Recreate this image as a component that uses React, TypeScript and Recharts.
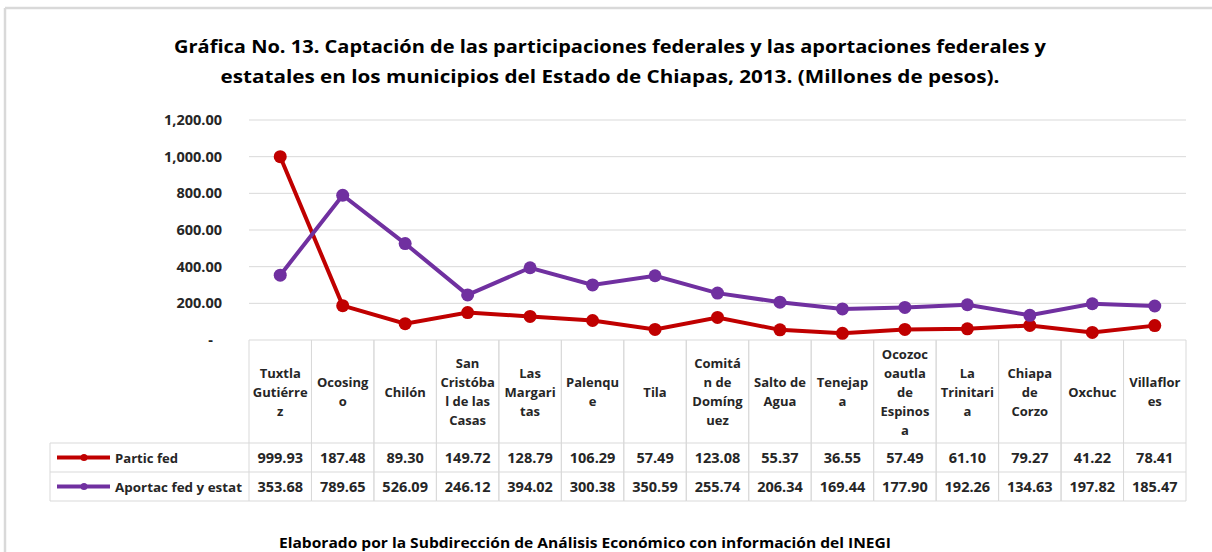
import React from 'react';
import { LineChart, Line, XAxis, YAxis, CartesianGrid } from 'recharts';

// municipios (orden de la gráfica)
const municipios = [
  'Tuxtla Gutiérrez', 'Ocosingo', 'Chilón', 'San Cristóbal de las Casas', 'Las Margaritas',
  'Palenque', 'Tila', 'Comitán de Domínguez', 'Salto de Agua', 'Tenejapa',
  'Ocozocoautla de Espinosa', 'La Trinitaria', 'Chiapa de Corzo', 'Oxchuc', 'Villaflores',
];

// etiquetas tal como se cortan en la tabla
const etiquetas = [
  ['Tuxtla', 'Gutiérre', 'z'],
  ['Ocosing', 'o'],
  ['Chilón'],
  ['San', 'Cristóba', 'l de las', 'Casas'],
  ['Las', 'Margari', 'tas'],
  ['Palenqu', 'e'],
  ['Tila'],
  ['Comitá', 'n de', 'Domíng', 'uez'],
  ['Salto de', 'Agua'],
  ['Tenejap', 'a'],
  ['Ocozoc', 'oautla', 'de', 'Espinos', 'a'],
  ['La', 'Trinitari', 'a'],
  ['Chiapa', 'de', 'Corzo'],
  ['Oxchuc'],
  ['Villaflor', 'es'],
];

const particFed = [999.93, 187.48, 89.3, 149.72, 128.79, 106.29, 57.49, 123.08, 55.37, 36.55, 57.49, 61.1, 79.27, 41.22, 78.41];
const aportacFed = [353.68, 789.65, 526.09, 246.12, 394.02, 300.38, 350.59, 255.74, 206.34, 169.44, 177.9, 192.26, 134.63, 197.82, 185.47];

const yTicks = [0, 200, 400, 600, 800, 1000, 1200];

const series = [
  { key: 'partic', name: 'Partic fed', color: '#C00000', textW: 63 },
  { key: 'aportac', name: 'Aportac fed y estat', color: '#7030A0', textW: 127 },
];

const data = municipios.map((m, i) => ({ municipio: m, partic: particFed[i], aportac: aportacFed[i] }));

// layout
const W = 1212;
const H = 552;
const PLOT_LEFT = 249;
const PLOT_RIGHT = 1186;
const PLOT_TOP = 120;
const PLOT_BOTTOM = 340;
const BAND = (PLOT_RIGHT - PLOT_LEFT) / municipios.length;
const ROW_CAT = 443;
const ROW_1 = 472;
const ROW_2 = 501;
const LEG_LEFT = 50;
const GRID = '#D9D9D9';
const FONT = "'Open Sans', 'DejaVu Sans', sans-serif";
const TXT = '#262626';

const fmt = (v: number) => v.toLocaleString('en-US', { minimumFractionDigits: 2, maximumFractionDigits: 2 });

const YTick = (props: any) => {
  const { x, y, payload } = props;
  const label = payload.value === 0 ? '-' : fmt(payload.value);
  return (
    <text x={x} y={y} dx={payload.value === 0 ? -9 : 0} dy={5} textAnchor="end"
      fontFamily={FONT} fontSize={14.5} fontWeight="bold" fill={TXT}>
      {label}
    </text>
  );
};

const TableTick = (props: any) => {
  const { x, payload } = props;
  const i = municipios.indexOf(payload.value);
  if (i < 0) return null;
  const x0 = x - BAND / 2;
  const x1 = x + BAND / 2;
  const lines = etiquetas[i];
  const lh = 19;
  const catMid = (PLOT_BOTTOM + ROW_CAT) / 2;
  const firstY = catMid - ((lines.length - 1) * lh) / 2 + 5;
  const r1 = (ROW_CAT + ROW_1) / 2 + 5;
  const r2 = (ROW_1 + ROW_2) / 2 + 5;
  return (
    <g>
      <line x1={x0} x2={x0} y1={PLOT_BOTTOM} y2={ROW_2} stroke={GRID} />
      <line x1={x1} x2={x1} y1={PLOT_BOTTOM} y2={ROW_2} stroke={GRID} />
      {[ROW_CAT, ROW_1, ROW_2].map((yy) => (
        <line key={yy} x1={x0} x2={x1} y1={yy} y2={yy} stroke={GRID} />
      ))}
      {lines.map((t, k) => (
        <text key={k} x={x} y={firstY + k * lh} textAnchor="middle" fontFamily={FONT}
          fontSize={13} fontWeight="bold" fill={TXT}>{t}</text>
      ))}
      <text x={x} y={r1} textAnchor="middle" fontFamily={FONT} fontSize={14.5} fontWeight="bold" fill={TXT}>
        {fmt(particFed[i])}
      </text>
      <text x={x} y={r2} textAnchor="middle" fontFamily={FONT} fontSize={14.5} fontWeight="bold" fill={TXT}>
        {fmt(aportacFed[i])}
      </text>
      {i === 0 && (
        <g>
          <line x1={LEG_LEFT} x2={LEG_LEFT} y1={ROW_CAT} y2={ROW_2} stroke={GRID} />
          {[ROW_CAT, ROW_1, ROW_2].map((yy) => (
            <line key={yy} x1={LEG_LEFT} x2={x0} y1={yy} y2={yy} stroke={GRID} />
          ))}
          {series.map((s, k) => {
            const cy = k === 0 ? (ROW_CAT + ROW_1) / 2 : (ROW_1 + ROW_2) / 2;
            return (
              <g key={s.key}>
                <line x1={57} x2={110} y1={cy} y2={cy} stroke={s.color} strokeWidth={4} />
                <circle cx={84} cy={cy} r={3.5} fill={s.color} />
                <text x={115} y={cy + 5} fontFamily={FONT} fontSize={13} fontWeight="bold" fill={TXT}
                  textLength={s.textW} lengthAdjust="spacingAndGlyphs">{s.name}</text>
              </g>
            );
          })}
        </g>
      )}
    </g>
  );
};

export default function App() {
  return (
    <div style={{ position: 'absolute', left: 0, top: 0, width: W, height: H, background: '#fff', overflow: 'hidden' }}>
      <LineChart width={W} height={H} data={data}
        margin={{ top: PLOT_TOP, right: W - PLOT_RIGHT, bottom: 0, left: 0 }}>
        <CartesianGrid horizontal vertical={false} stroke={GRID} />
        <XAxis dataKey="municipio" interval={0} axisLine={false} tickLine={false}
          padding={{ left: BAND / 2, right: BAND / 2 }}
          tickSize={0} tickMargin={0} height={H - PLOT_BOTTOM} tick={<TableTick />} />
        <YAxis domain={[0, 1200]} ticks={yTicks} interval={0} axisLine={false} tickLine={false}
          tickSize={0} tickMargin={27} width={PLOT_LEFT} tick={<YTick />} />
        {series.map((s) => (
          <Line key={s.key} type="linear" dataKey={s.key} name={s.name} stroke={s.color} strokeWidth={4}
            dot={{ r: 6.5, fill: s.color, stroke: s.color, strokeWidth: 0 }} isAnimationActive={false} />
        ))}
      </LineChart>
      <svg width={W} height={H} style={{ position: 'absolute', left: 0, top: 0, pointerEvents: 'none' }}>
        <line x1={5} x2={W} y1={8} y2={8} stroke={GRID} strokeWidth={2.5} />
        <line x1={5} x2={5} y1={8} y2={H} stroke={GRID} strokeWidth={2.5} />
        <text x={610} y={53} textAnchor="middle" fontFamily={FONT} fontSize={18} fontWeight="bold" fill="#000"
          textLength={872} lengthAdjust="spacingAndGlyphs">
          Gráfica No. 13. Captación de las participaciones federales y las aportaciones federales y
        </text>
        <text x={610} y={83} textAnchor="middle" fontFamily={FONT} fontSize={18} fontWeight="bold" fill="#000"
          textLength={779} lengthAdjust="spacingAndGlyphs">
          estatales en los municipios del Estado de Chiapas, 2013. (Millones de pesos).
        </text>
        <text x={585} y={548} textAnchor="middle" fontFamily={FONT} fontSize={13.5} fontWeight="bold" fill="#000"
          textLength={612} lengthAdjust="spacingAndGlyphs">
          Elaborado por la Subdirección de Análisis Económico con información del INEGI
        </text>
      </svg>
    </div>
  );
}
